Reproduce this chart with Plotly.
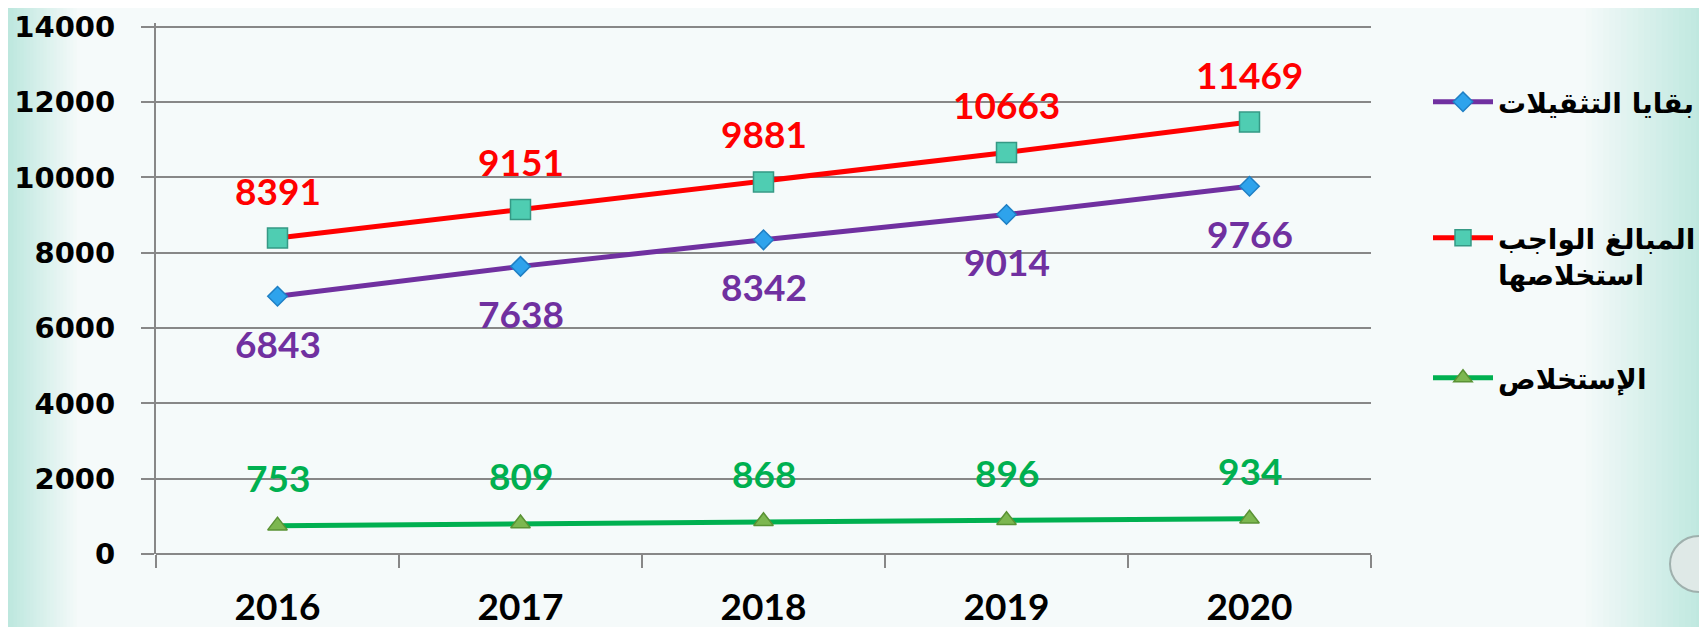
"""Line chart: remaining, due and collected amounts 2016-2020."""
import plotly.graph_objects as go

years = ["2016", "2017", "2018", "2019", "2020"]
remaining = [6843, 7638, 8342, 9014, 9766]
due = [8391, 9151, 9881, 10663, 11469]
collected = [753, 809, 868, 896, 934]

name_remaining = "بقايا التثقيلات"
name_due = "المبالغ الواجب<br>استخلاصها"
name_collected = "الإستخلاص"

y_ticks = [0, 2000, 4000, 6000, 8000, 10000, 12000, 14000]

# the page body adds an 8px offset, so the figure is 8px smaller
OFF = 8
W, H = 1707 - OFF, 627 - OFF
L, R, T, B = 156 - OFF, 336, 15, 73
PW, PH = W - L - R, H - T - B

GRID = "#878787"
LABEL_FONT = "Lato, Open Sans, sans-serif"


def px_x(p):
    # screen pixel -> paper x
    return (p - OFF - L) / PW


def px_y(p):
    # screen pixel -> paper y
    return (H - B - (p - OFF)) / PH


fig = go.Figure()

series = [
    (name_remaining, remaining, "#7030a0", "diamond", 15, "#2ea3ec", "#1f7fc4", -47, 101),
    (name_due, due, "#ff0000", "square", 20, "#4fcdb2", "#359985", 48, 237),
    (name_collected, collected, "#00b050", "triangle-up", 17, "#7cb750", "#5a9234", 48, 377),
]

annotations = []
legends = {}
for i, (name, vals, lc, sym, size, mfill, mline, shift, leg_y) in enumerate(series):
    leg = "legend" if i == 0 else f"legend{i + 1}"
    fig.add_trace(go.Scatter(
        x=years, y=vals, name=name, mode="lines+markers",
        line=dict(color=lc, width=5),
        marker=dict(symbol=sym, size=size, color=mfill, line=dict(color=mline, width=1.5)),
        legend=leg,
    ))
    legends[leg] = dict(
        x=px_x(1428), xanchor="left", y=px_y(leg_y - 24), yanchor="top",
        bgcolor="rgba(0,0,0,0)", valign="top", itemwidth=60,
        font=dict(family="DejaVu Sans, sans-serif", size=28, color="#000000", weight="bold"),
    )
    # category axis: annotations take the category index
    for ci, yv in enumerate(vals):
        annotations.append(dict(
            x=ci, y=yv, xref="x", yref="y", text=str(yv), showarrow=False, yshift=shift,
            font=dict(family=LABEL_FONT, size=37, color=lc, weight="bold"),
        ))

# background: light teal fading in from both edges
shapes = []
n = 24
left_w, right_start = 80, 1580
c_edge = (184, 230, 220)
c_mid = (245, 250, 250)
for k in range(n):
    t = k / (n - 1)
    col = tuple(int(c_edge[j] + (c_mid[j] - c_edge[j]) * t) for j in range(3))
    x0 = left_w * k / n
    x1 = left_w * (k + 1) / n + 1
    shapes.append(dict(type="rect", xref="paper", yref="paper", layer="below",
                       x0=px_x(x0), x1=px_x(x1), y0=-0.3, y1=1.2,
                       fillcolor=f"rgb{col}", line_width=0))
    rx1 = 1720 - (1720 - right_start) * k / n
    rx0 = 1720 - (1720 - right_start) * (k + 1) / n - 1
    shapes.append(dict(type="rect", xref="paper", yref="paper", layer="below",
                       x0=px_x(rx0), x1=px_x(rx1), y0=-0.3, y1=1.2,
                       fillcolor=f"rgb{col}", line_width=0))

# decorative bead bottom-right
shapes.append(dict(type="circle", xref="paper", yref="paper", layer="below",
                   x0=px_x(1670), x1=px_x(1728), y0=px_y(592), y1=px_y(536),
                   fillcolor="#dfe9e7", line=dict(color="#9fb0ad", width=2)))

fig.update_layout(
    width=W, height=H,
    margin=dict(l=L, r=R, t=T, b=B, autoexpand=False),
    paper_bgcolor="rgb(245,250,250)",
    plot_bgcolor="rgba(0,0,0,0)",
    shapes=shapes,
    annotations=annotations,
    showlegend=True,
    xaxis=dict(
        type="category", range=[-0.5, 4.5], automargin=False,
        showgrid=False, showline=False, zeroline=False,
        ticks="outside", tickson="boundaries", ticklen=13, tickwidth=2, tickcolor=GRID,
        tickfont=dict(family=LABEL_FONT, size=37, color="#000000", weight="bold"),
        ticklabelstandoff=28,
    ),
    yaxis=dict(
        range=[0, 14100], tickvals=y_ticks, ticktext=[str(v) for v in y_ticks],
        automargin=False, ticklabeloverflow="allow",
        showgrid=True, gridcolor=GRID, gridwidth=2,
        showline=True, linecolor=GRID, linewidth=2,
        zeroline=True, zerolinecolor=GRID, zerolinewidth=2,
        ticks="outside", ticklen=13, tickwidth=2, tickcolor=GRID,
        tickfont=dict(family="DejaVu Sans, Verdana, sans-serif", size=29, color="#000000", weight="bold"),
        ticklabelstandoff=20,
    ),
    **legends,
)

fig.write_html("out.html")
